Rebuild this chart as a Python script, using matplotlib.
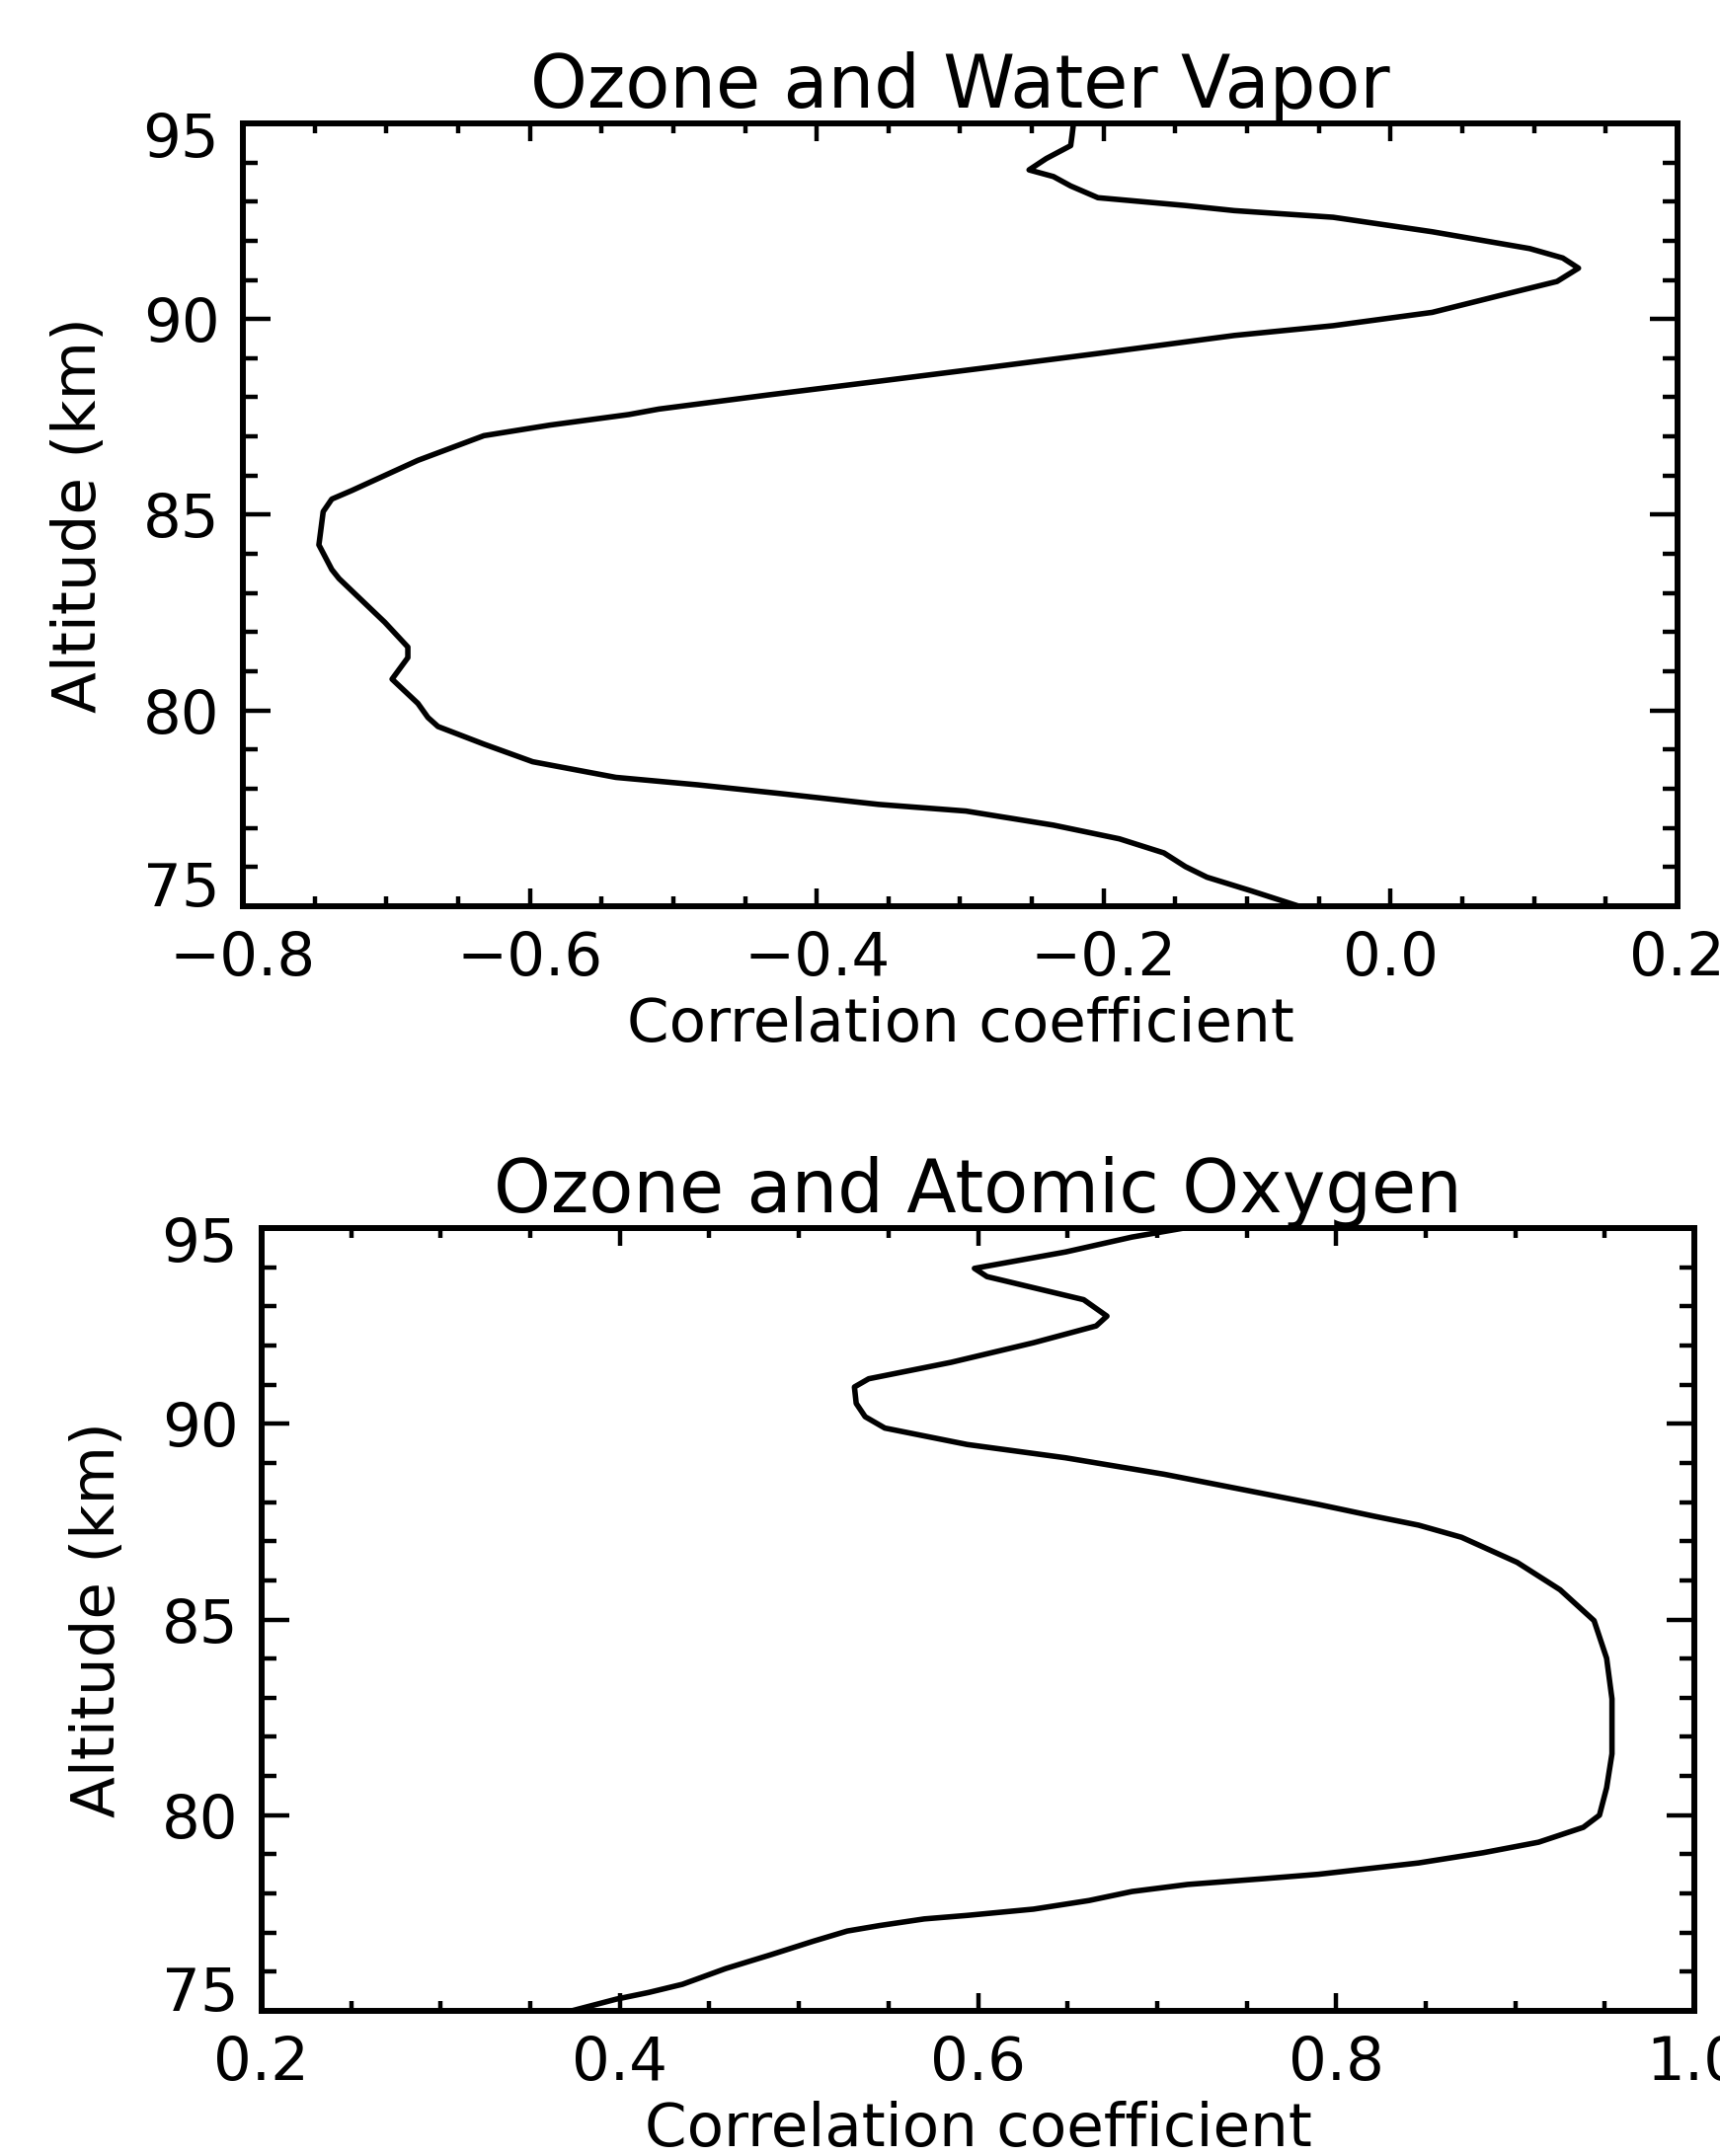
"""
Correlation profiles of ozone with water vapor and atomic oxygen (75-95 km).
"""

import matplotlib
matplotlib.use("Agg")
import matplotlib.pyplot as plt
from matplotlib.ticker import MultipleLocator, FuncFormatter
from matplotlib.transforms import ScaledTranslation

# Ozone vs water vapor: correlation coefficient and altitude (km)
h2o_alt = [95.0, 94.70, 94.43, 94.10, 93.81, 93.64, 93.40, 93.10, 92.90, 92.77,
           92.60, 92.23, 91.80, 91.56, 91.30, 90.96, 90.59, 90.17, 89.83, 89.58,
           89.12, 88.76, 88.41, 88.06, 87.70, 87.56, 87.29, 87.02, 86.39, 85.62,
           85.40, 85.08, 84.23, 83.60, 83.37, 82.25, 81.62, 81.35, 80.80, 80.18,
           79.82, 79.59, 79.14, 78.69, 78.29, 78.10, 77.88, 77.60, 77.43, 77.07,
           76.72, 76.36, 76.01, 75.74, 75.39, 75.0]
h2o_corr = [-0.221, -0.222, -0.223, -0.240, -0.252, -0.235, -0.223, -0.204, -0.143, -0.109,
            -0.040, 0.029, 0.097, 0.120, 0.131, 0.116, 0.075, 0.029, -0.040, -0.109,
            -0.204, -0.281, -0.357, -0.434, -0.510, -0.531, -0.586, -0.632, -0.678, -0.724,
            -0.738, -0.744, -0.747, -0.738, -0.733, -0.701, -0.685, -0.685, -0.696, -0.678,
            -0.671, -0.664, -0.632, -0.598, -0.540, -0.483, -0.426, -0.357, -0.296, -0.235,
            -0.189, -0.158, -0.143, -0.128, -0.097, -0.064]

# Ozone vs atomic oxygen
o_alt = [95.0, 94.77, 94.39, 93.97, 93.76, 93.17, 92.75, 92.50, 92.07, 91.57,
         91.15, 90.94, 90.52, 90.18, 89.89, 89.47, 89.13, 88.71, 88.21, 87.94,
         87.64, 87.41, 87.10, 86.46, 85.76, 84.97, 84.01, 82.97, 81.57, 80.70,
         80.0, 79.69, 79.31, 79.04, 78.78, 78.49, 78.38, 78.23, 78.05, 77.82,
         77.60, 77.44, 77.35, 77.18, 77.04, 76.78, 76.43, 76.08, 75.68, 75.47,
         75.30, 75.0]
o_corr = [0.715, 0.686, 0.649, 0.598, 0.605, 0.659, 0.672, 0.666, 0.631, 0.585,
          0.539, 0.531, 0.532, 0.537, 0.548, 0.594, 0.649, 0.704, 0.760, 0.790,
          0.821, 0.846, 0.870, 0.901, 0.925, 0.944, 0.951, 0.954, 0.954, 0.951,
          0.947, 0.938, 0.913, 0.882, 0.846, 0.790, 0.760, 0.717, 0.686, 0.662,
          0.631, 0.594, 0.570, 0.545, 0.527, 0.508, 0.484, 0.459, 0.435, 0.416,
          0.398, 0.373]

alt_ticks = [75, 80, 85, 90, 95]

plt.rcParams["font.family"] = ["DejaVu Sans"]

fig = plt.figure(figsize=(17.42, 21.84), dpi=100)

panels = [
    ([0.1412, 0.5797, 0.8341, 0.3631], h2o_corr, h2o_alt, (-0.8, 0.2),
     "Ozone and Water Vapor"),
    ([0.1521, 0.0673, 0.8330, 0.3631], o_corr, o_alt, (0.2, 1.0),
     "Ozone and Atomic Oxygen"),
]

for rect, xs, ys, xlim, title in panels:
    ax = fig.add_axes(rect)
    ax.plot(xs, ys, color="black", linewidth=4.0, solid_joinstyle="round")
    ax.set_xlim(*xlim)
    ax.set_ylim(75, 95)
    ax.xaxis.set_major_locator(MultipleLocator(0.2))
    ax.xaxis.set_minor_locator(MultipleLocator(0.05))
    ax.set_yticks(alt_ticks)
    ax.yaxis.set_minor_locator(MultipleLocator(1))
    ax.xaxis.set_major_formatter(FuncFormatter(lambda v, p: f"{v:.1f}".replace("-", "\u2212")))
    ax.tick_params(which="both", direction="in", top=True, right=True, width=3.2, labelsize=44)
    ax.tick_params(axis="x", which="major", length=13, pad=17)
    ax.tick_params(axis="x", which="minor", length=7)
    ax.tick_params(axis="y", which="major", length=20, pad=17)
    ax.tick_params(axis="y", which="minor", length=11)
    for sp in ax.spines.values():
        sp.set_linewidth(4.3)
    ax.set_title(title, fontsize=53, pad=5)
    ax.set_xlabel("Correlation coefficient", fontsize=44, labelpad=6)
    ax.set_ylabel("Altitude (km)", fontsize=44, labelpad=25)

    # end labels sit inside the axis range, as in the original
    yt = ax.yaxis.get_major_ticks()
    yt[0].label1.set_va("baseline")
    yt[-1].label1.set_transform(yt[-1].label1.get_transform()
                                + ScaledTranslation(0, -0.11, fig.dpi_scale_trans))

fig.savefig("out.png", dpi=100)
